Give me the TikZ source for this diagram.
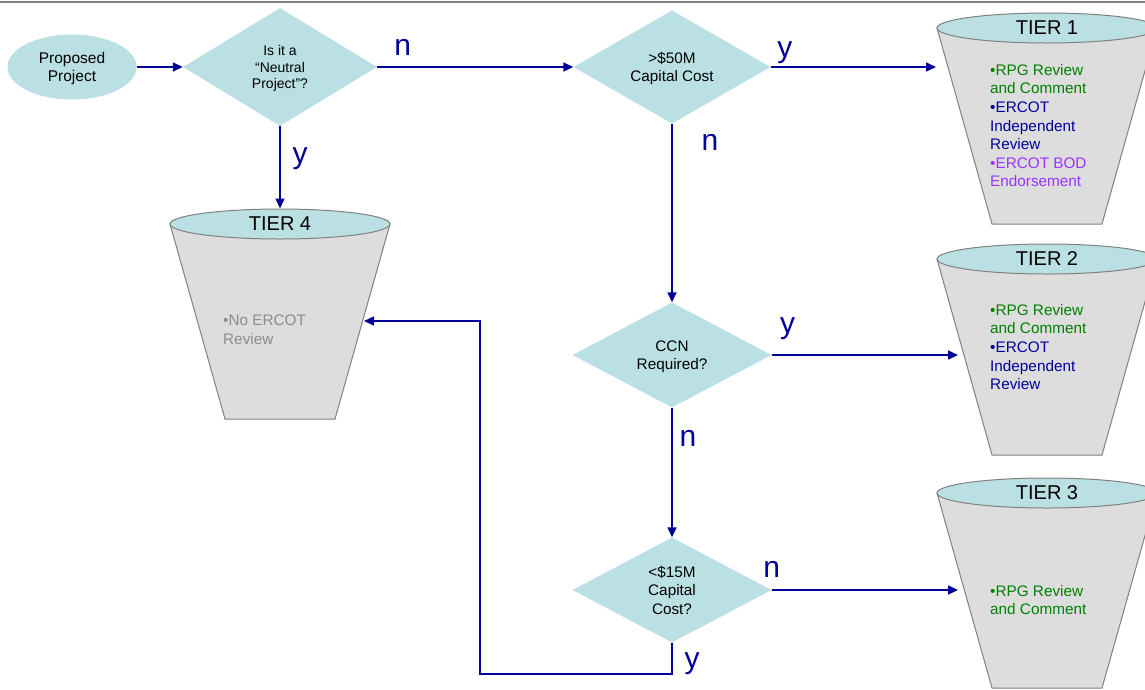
\documentclass[tikz,border=0pt]{standalone}
\usepackage{fontspec}
\setmainfont{Liberation Sans}
\usetikzlibrary{shapes.geometric, arrows.meta, positioning}
\definecolor{ercotteal}{RGB}{186, 224, 227}
\definecolor{ercotblue}{RGB}{0, 0, 153}
\definecolor{ercotgreen}{RGB}{0, 128, 0}
\definecolor{ercotpurple}{RGB}{153, 51, 255}
\definecolor{ercotgray}{RGB}{140, 140, 140}
\definecolor{bucketfill}{RGB}{221, 221, 221}
\definecolor{bucketline}{RGB}{128, 128, 128}

\tikzset{
  decision/.style={diamond, fill=ercotteal, inner sep=0pt, text depth=0pt, align=center, font=\fontsize{15.3}{18.6}\selectfont},
  projectnode/.style={ellipse, fill=ercotteal, minimum width=129pt, minimum height=65pt, inner sep=0pt, text depth=0pt, align=center, font=\fontsize{15.5}{18.6}\selectfont},
  tiertop/.style={ellipse, fill=ercotteal, draw=bucketline, line width=1pt, minimum width=220pt, minimum height=30pt, inner sep=0pt, text depth=0pt, font=\fontsize{20}{24}\selectfont},
  flow/.style={draw=ercotblue, line width=1.5pt, -{Triangle[length=10pt,width=9pt]}},
  yn/.style={text=ercotblue, font=\fontsize{30}{36}\selectfont, anchor=base, inner sep=0pt},
  tiertext/.style={anchor=north west, align=left, inner sep=0pt, font=\fontsize{15.3}{18.6}\selectfont}
}

\newcommand{\tierbucket}[5]{%
  \fill[bucketfill, draw=bucketline, line width=1pt] ({#2-110},#3) -- ({#2-55},#4) -- ({#2+55},#4) -- ({#2+110},#3) -- cycle;
  \node[tiertop] (#1) at (#2,#3) {#5};
}

\begin{document}
\begin{tikzpicture}[x=1pt, y=-1pt]
  \useasboundingbox (0,0) rectangle (1145,689);
  \draw[bucketline, line width=1.5pt] (0,2) -- (1145,2);

  \tierbucket{tier1}{1047}{28}{224}{TIER 1}
  \tierbucket{tier2}{1047}{259}{455}{TIER 2}
  \tierbucket{tier3}{1047}{493}{688}{TIER 3}
  \tierbucket{tier4}{280}{224}{419}{TIER 4}

  \node[tiertext] (tier1txt) at (990,64) {\textcolor{ercotgreen}{•RPG Review}\\\textcolor{ercotgreen}{and Comment}\\\textcolor{ercotblue}{•ERCOT}\\\textcolor{ercotblue}{Independent}\\\textcolor{ercotblue}{Review}\\\textcolor{ercotpurple}{•ERCOT BOD}\\\textcolor{ercotpurple}{Endorsement}};
  \node[tiertext] (tier2txt) at (990,304) {\textcolor{ercotgreen}{•RPG Review}\\\textcolor{ercotgreen}{and Comment}\\\textcolor{ercotblue}{•ERCOT}\\\textcolor{ercotblue}{Independent}\\\textcolor{ercotblue}{Review}};
  \node[tiertext] (tier3txt) at (990,585) {\textcolor{ercotgreen}{•RPG Review}\\\textcolor{ercotgreen}{and Comment}};
  \node[tiertext] (tier4txt) at (223,315) {\textcolor{ercotgray}{•No ERCOT}\\\textcolor{ercotgray}{Review}};

  \node[projectnode] (proj) at (72,67) {Proposed\\Project};
  \node[decision, minimum width=194pt, minimum height=118pt, font=\fontsize{14}{16.8}\selectfont] (d1) at (280,67) {Is it a\\“Neutral\\Project”?};
  \node[decision, minimum width=197pt, minimum height=103pt] (d2) at (672,67) {>\$50M\\Capital Cost};
  \node[decision, minimum width=199pt, minimum height=105pt] (d3) at (672,355) {CCN\\Required?};
  \node[decision, minimum width=199pt, minimum height=105pt] (d4) at (672,590) {<\$15M\\Capital\\Cost?};

  \coordinate (tier1in) at (936,67);
  \coordinate (tier2in) at (958,355);
  \coordinate (tier3in) at (958,590);
  \coordinate (tier4in) at (364,321);
  \coordinate (loopcorner) at (480,674);

  \draw[flow] (proj) -- (d1);
  \draw[flow] (d1.east) -- node[yn, pos=0.13, yshift=12pt] {n} (d2.west);
  \draw[flow] (d2.east) -- node[yn, pos=0.085, yshift=9.5pt] {y} (tier1in);
  \draw[flow] (d1.south) -- node[yn, pos=0.45, xshift=20pt] {y} (tier4.north);
  \draw[flow] (d2.south) -- node[yn, pos=0.15, xshift=38pt] {n} (d3.north);
  \draw[flow] (d3.east) -- node[yn, pos=0.086, yshift=22pt] {y} (tier2in);
  \draw[flow] (d3.south) -- node[yn, pos=0.30, xshift=16pt] {n} (d4.north);
  \draw[flow] (d4.east) -- node[yn, pos=0, yshift=13pt] {n} (tier3in);
  \draw[flow] (d4.south) |- node[yn, pos=0.41, xshift=20pt] {y} (loopcorner) |- (tier4in);
\end{tikzpicture}
\end{document}
